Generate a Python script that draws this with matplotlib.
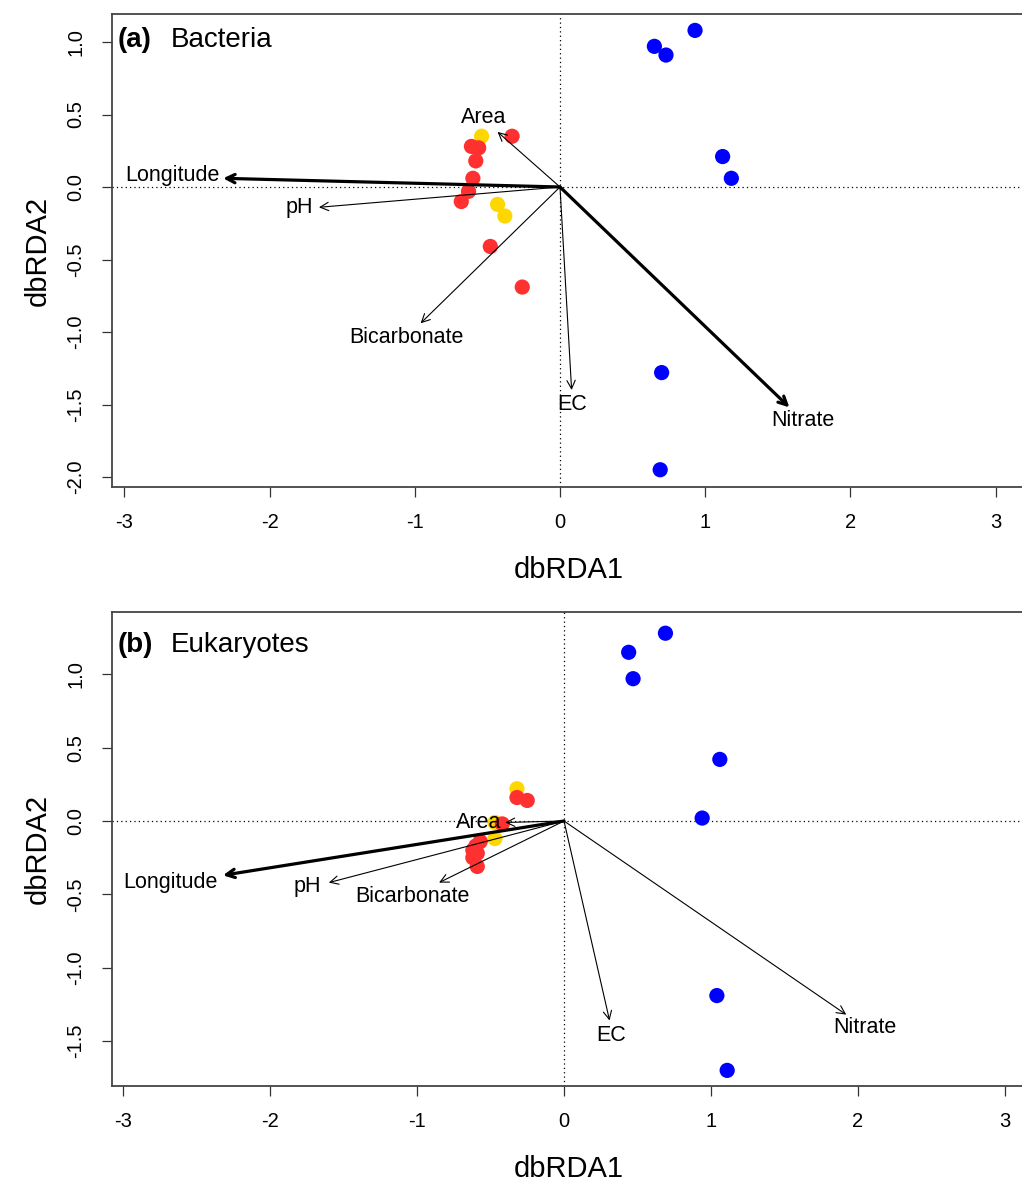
import matplotlib
matplotlib.use("Agg")
import matplotlib.pyplot as plt
import numpy as np

plt.rcParams["font.family"] = ["Liberation Sans", "DejaVu Sans"]
plt.rcParams["axes.unicode_minus"] = False

W, H = 1022, 1184

# ---- (a) Bacteria: site scores ----
a_blue_x = [0.65, 0.73, 0.93, 1.12, 1.18, 0.70, 0.69]
a_blue_y = [0.97, 0.91, 1.08, 0.21, 0.06, -1.28, -1.95]
a_red_x = [-0.33, -0.61, -0.56, -0.58, -0.60, -0.63, -0.68, -0.48, -0.26]
a_red_y = [0.35, 0.28, 0.27, 0.18, 0.06, -0.03, -0.10, -0.41, -0.69]
a_yel_x = [-0.54, -0.43, -0.38]
a_yel_y = [0.35, -0.12, -0.20]

# ---- (a) env vectors ----
a_vec_names = ["Longitude", "pH", "Area", "Bicarbonate", "EC", "Nitrate"]
a_vec_x = [-2.32, -1.66, -0.43, -0.96, 0.08, 1.58]
a_vec_y = [0.06, -0.14, 0.38, -0.94, -1.40, -1.52]
a_vec_bold = [True, False, False, False, False, True]

# ---- (b) Eukaryotes: site scores ----
b_blue_x = [0.69, 0.44, 0.47, 1.06, 0.94, 1.04, 1.11]
b_blue_y = [1.28, 1.15, 0.97, 0.42, 0.02, -1.19, -1.70]
b_red_x = [-0.32, -0.25, -0.42, -0.57, -0.62, -0.59, -0.62, -0.59, -0.60]
b_red_y = [0.16, 0.14, -0.02, -0.14, -0.20, -0.22, -0.25, -0.31, -0.17]
b_yel_x = [-0.32, -0.47, -0.47]
b_yel_y = [0.22, -0.01, -0.12]

# ---- (b) env vectors ----
b_vec_names = ["Longitude", "pH", "Bicarbonate", "Area", "EC", "Nitrate"]
b_vec_x = [-2.32, -1.60, -0.85, -0.40, 0.31, 1.92]
b_vec_y = [-0.37, -0.42, -0.42, -0.01, -1.36, -1.32]
b_vec_bold = [True, False, False, False, False, False]

# label placement: (ha, dx px, dy px) relative to arrow tip
a_lab = [("right", -4, 3), ("right", -6, 0), ("center", -14, 14),
         ("center", -14, -14), ("center", 1, -15), ("center", 13, -13)]
b_lab = [("right", -5, -7), ("right", -8, -4), ("center", -27, -14),
         ("right", -4, 0), ("center", 2, -15), ("center", 19, -13)]

BLUE, RED, YEL = "#0000FF", "#FF3030", "#FFD700"


def px_axes(fig, left, top, right, bottom):
    return fig.add_axes([left / W, 1 - bottom / H, (right - left) / W, (bottom - top) / H])


def panel(ax, tag, title, blue, red, yel, vecs, labs, xlim, ylim, yticks, title_dy):
    ax.set_xlim(*xlim); ax.set_ylim(*ylim)
    ax.axhline(0, color="black", linestyle=(0, (1, 2.5)), linewidth=0.9, zorder=1)
    ax.axvline(0, color="black", linestyle=(0, (1, 2.5)), linewidth=0.9, zorder=1)
    ax.scatter(*yel, s=120, color=YEL, edgecolor="none", zorder=2)
    ax.scatter(*red, s=120, color=RED, edgecolor="none", zorder=3)
    ax.scatter(*blue, s=120, color=BLUE, edgecolor="none", zorder=3)
    names, vx, vy, bold = vecs
    for n, x, y, b, (ha, dx, dy) in zip(names, vx, vy, bold, labs):
        lw = 2.3 if b else 0.8
        ax.annotate("", xy=(x, y), xytext=(0, 0),
                    arrowprops=dict(arrowstyle="->,head_length=0.6,head_width=0.3",
                                    lw=lw, color="black", shrinkA=0, shrinkB=0), zorder=4)
        ax.annotate(n, xy=(x, y), xytext=(dx * 0.72, dy * 0.72), textcoords="offset points",
                    ha=ha, va="center", fontsize=15.5, zorder=5)
    ax.annotate(tag, xy=(0, 1), xycoords="axes fraction", xytext=(4, title_dy),
                textcoords="offset points", ha="left", va="center",
                fontsize=20, fontweight="bold")
    ax.annotate(title, xy=(0, 1), xycoords="axes fraction", xytext=(42, title_dy),
                textcoords="offset points", ha="left", va="center", fontsize=20)
    ax.set_xticks(np.arange(-3, 4))
    ax.set_xticklabels([str(v) for v in range(-3, 4)])
    ax.set_yticks(yticks)
    ax.set_yticklabels([f"{v:.1f}" for v in yticks], rotation=90, va="center")
    ax.tick_params(axis="both", length=7, width=0.9, color="#333333", labelsize=14.5, pad=12)
    for s in ("top", "right", "left", "bottom"):
        ax.spines[s].set_color("#444444"); ax.spines[s].set_linewidth(1.3)
    ax.set_xlabel("dbRDA1", fontsize=21)
    ax.set_ylabel("dbRDA2", fontsize=21)
    ax.xaxis.set_label_coords(0.5, -0.175)
    ax.xaxis.label.set_va("center")
    ax.yaxis.set_label_coords(-0.081, 0.5)
    ax.yaxis.label.set_va("center")


fig = plt.figure(figsize=(W / 100, H / 100), dpi=100)

ax1 = px_axes(fig, 112, 14, 1026, 487)
panel(ax1, "(a)", "Bacteria",
      (a_blue_x, a_blue_y), (a_red_x, a_red_y), (a_yel_x, a_yel_y),
      (a_vec_names, a_vec_x, a_vec_y, a_vec_bold), a_lab,
      ((112 - 560) / 145.2, (1026 - 560) / 145.2), ((187 - 487) / 145.0, (187 - 14) / 145.0),
      [-2.0, -1.5, -1.0, -0.5, 0.0, 0.5, 1.0], -19)

ax2 = px_axes(fig, 112, 612, 1026, 1086)
panel(ax2, "(b)", "Eukaryotes",
      (b_blue_x, b_blue_y), (b_red_x, b_red_y), (b_yel_x, b_yel_y),
      (b_vec_names, b_vec_x, b_vec_y, b_vec_bold), b_lab,
      ((112 - 564) / 147.0, (1026 - 564) / 147.0), ((821 - 1086) / 146.7, (821 - 612) / 146.7),
      [-1.5, -1.0, -0.5, 0.0, 0.5, 1.0], -24)

fig.savefig("out.png", dpi=100)
